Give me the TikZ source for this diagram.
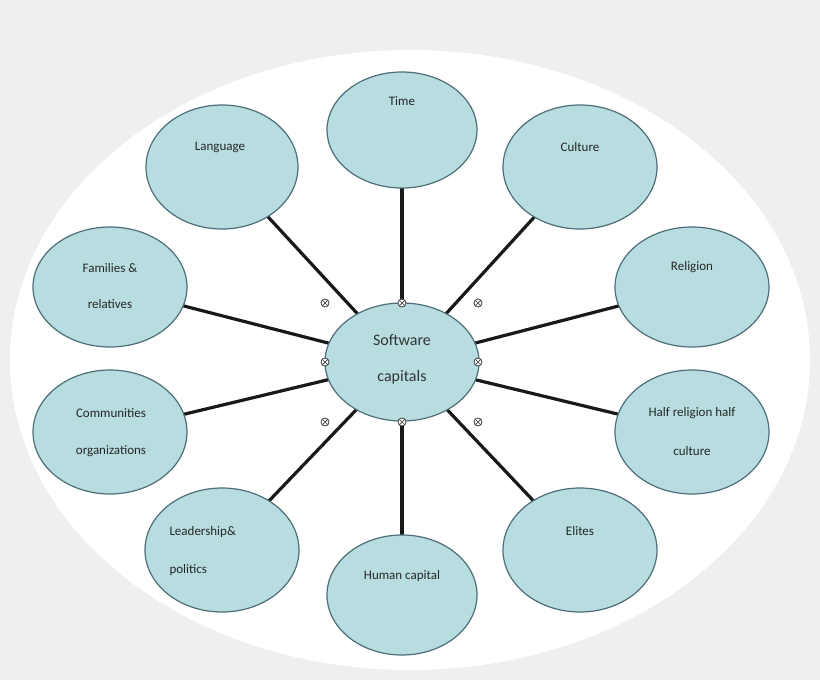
\documentclass[tikz,border=0pt]{standalone}
\usepackage{fontspec}
\setmainfont{Carlito}
\definecolor{bub}{HTML}{B7DDE0}
\definecolor{edg}{HTML}{4E6E78}
\definecolor{bg}{HTML}{EFEFEF}
\begin{document}
\begin{tikzpicture}[x=1pt,y=-1pt,
  lab/.style={font=\fontsize{13}{15}\selectfont,text=black!85},
  link/.style={line width=3.2pt,black!90},
  handle/.style={circle,draw=black!75,line width=0.8pt,fill=white,inner sep=0pt,minimum size=8pt}]
\useasboundingbox (0,0) rectangle (820,680);
\fill[bg] (0,0) rectangle (820,680);
\fill[white] (410,360) ellipse (400 and 310);
\coordinate (t) at (402,130);
\coordinate (la) at (222,167);
\coordinate (cu) at (580,167);
\coordinate (fa) at (110,287);
\coordinate (re) at (692,287);
\coordinate (co) at (110,432);
\coordinate (hr) at (692,432);
\coordinate (le) at (222,550);
\coordinate (el) at (580,550);
\coordinate (hc) at (402,595);
\coordinate (c) at (402,362);
\foreach \n in {t,la,cu,fa,re,co,hr,le,el,hc} \draw[link] (c) -- (\n);
\foreach \n/\rx/\ry in {t/75/58,la/76/62,cu/77/62,fa/77/60,re/77/60,co/77/62,hr/77/62,le/77/62,el/77/62,hc/75/60}
  \fill[bub,draw=edg,line width=1.2pt] (\n) ellipse (\rx pt and \ry pt);
\fill[bub,draw=edg,line width=1.2pt] (c) ellipse (77pt and 59pt);
\node[lab] (tt) at (402,101) {Time};
\node[lab] (tla) at (220,147) {Language};
\node[lab] (tcu) at (580,147) {Culture};
\node[lab] (tfa1) at (110,268) {Families \&};
\node[lab] (tfa2) at (110,304) {relatives};
\node[lab] (tre) at (692,267) {Religion};
\node[lab] (tco1) at (111,413) {Communities};
\node[lab] (tco2) at (111,451) {organizations};
\node[lab] (thr1) at (692,413) {Half religion half};
\node[lab] (thr2) at (692,451) {culture};
\node[lab,anchor=west] (tle1) at (166,532) {Leadership\&};
\node[lab,anchor=west] (tle2) at (166,570) {politics};
\node[lab] (tel) at (580,531) {Elites};
\node[lab] (thc) at (402,576) {Human capital};
\node[font=\fontsize{16}{18}\selectfont,text=black!80] (tc1) at (402,340) {Software};
\node[font=\fontsize{16}{18}\selectfont,text=black!80] (tc2) at (402,377) {capitals};
\foreach \p [count=\i] in {(325,303),(402,303),(478,303),(325,362),(478,362),(325,422),(402,422),(478,422)}{
  \node[handle] (h\i) at \p {};
  \draw[black!75,line width=0.7pt] (h\i.north west) -- (h\i.south east) (h\i.north east) -- (h\i.south west);}
\end{tikzpicture}
\end{document}
